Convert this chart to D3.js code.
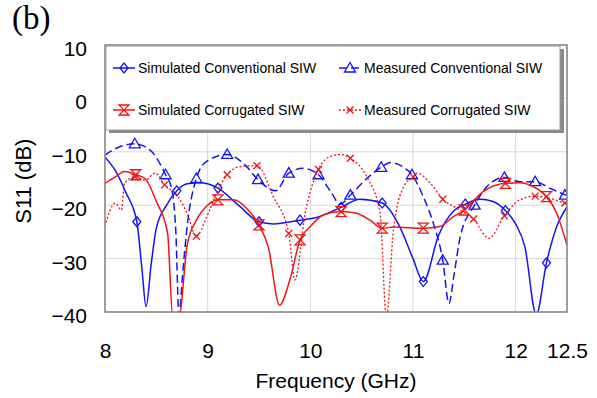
<!DOCTYPE html>
<html>
<head>
<meta charset="utf-8">
<script src="https://cdn.jsdelivr.net/npm/d3@7"></script>
<style>
  body { margin: 0; background: #fff; }
  svg { display: block; }
</style>
</head>
<body>
<svg id="chart" width="597" height="398"></svg>
<script>
// S11 curves: [frequency GHz, dB]
const simConv = [[8.00,-11.0],[8.10,-13.5],[8.20,-17.5],[8.31,-23.1],[8.36,-32],[8.40,-39],[8.45,-31],[8.50,-24.3],[8.60,-20.0],[8.70,-17.3],[8.80,-16.0],[8.92,-15.8],[9.10,-16.8],[9.30,-20],[9.50,-23.1],[9.64,-23.5],[9.90,-22.8],[10.06,-22.3],[10.30,-20.4],[10.48,-18.9],[10.70,-19.6],[10.87,-24],[11.00,-30],[11.10,-34.3],[11.25,-25.6],[11.40,-21],[11.51,-19.8],[11.65,-18.9],[11.78,-19.3],[11.90,-21.0],[12.00,-23.5],[12.09,-27.8],[12.20,-40.5],[12.30,-30.8],[12.40,-24],[12.50,-20.3]];
const simConvMarks = [[8.31,-23.1],[8.70,-17.3],[9.10,-16.8],[9.50,-23.1],[9.90,-22.8],[10.30,-20.4],[10.70,-19.6],[11.10,-34.3],[11.51,-19.8],[11.90,-21.0],[12.30,-30.8]];

const measConv = [[8.00,-10.6],[8.15,-9.0],[8.29,-8.5],[8.44,-9.7],[8.59,-14.3],[8.65,-17.0],[8.69,-25],[8.72,-40.5],[8.76,-32],[8.80,-24],[8.89,-15],[8.99,-11.8],[9.19,-10.5],[9.35,-12.2],[9.49,-15.2],[9.66,-17.3],[9.79,-14],[9.93,-13.1],[10.08,-14.3],[10.20,-17.5],[10.29,-19.8],[10.39,-18.1],[10.55,-15],[10.69,-12.9],[10.78,-12],[10.90,-12.8],[10.99,-14.3],[11.10,-18.4],[11.20,-23.5],[11.29,-30.3],[11.35,-38.4],[11.40,-33],[11.46,-25.9],[11.60,-20],[11.72,-16.5],[11.89,-14.8],[12.04,-15.6],[12.19,-15.6],[12.33,-16.8],[12.50,-18.2]];
const measConvMarks = [[8.29,-8.5],[8.59,-14.3],[8.89,-15],[9.19,-10.5],[9.49,-15.2],[9.79,-14],[10.08,-14.3],[10.39,-18.1],[10.69,-12.9],[10.99,-14.3],[11.29,-30.3],[11.60,-20],[11.89,-14.8],[12.19,-15.6],[12.48,-18.1]];

const simCorr = [[8.00,-15.9],[8.10,-14.7],[8.19,-13.7],[8.30,-14.3],[8.39,-15],[8.50,-19.3],[8.61,-25.3],[8.66,-41],[8.72,-41],[8.80,-27.5],[8.89,-22.8],[9.00,-20.0],[9.10,-19.0],[9.25,-19],[9.38,-20.6],[9.50,-23.7],[9.59,-27.8],[9.70,-38.7],[9.80,-34],[9.90,-26.5],[10.00,-24],[10.13,-21.8],[10.30,-21.2],[10.45,-21.5],[10.58,-22.8],[10.70,-24.3],[10.81,-24.1],[11.10,-24.3],[11.26,-24],[11.39,-22.2],[11.50,-20.9],[11.68,-17.5],[11.90,-15.9],[12.04,-15.8],[12.17,-16.5],[12.30,-18.4],[12.40,-21.5],[12.50,-27.5]];
const simCorrMarks = [[8.30,-14.3],[9.10,-19.0],[9.50,-23.7],[9.90,-26.5],[10.30,-21.2],[10.70,-24.3],[11.10,-24.3],[11.50,-20.9],[11.90,-15.9],[12.30,-18.4]];

const measCorr = [[8.00,-24],[8.05,-20.9],[8.10,-19.6],[8.16,-20.9],[8.19,-15.9],[8.29,-14.7],[8.39,-15.3],[8.49,-14],[8.58,-16.2],[8.70,-18.1],[8.80,-21.5],[8.89,-25.8],[8.99,-22.2],[9.10,-17.2],[9.19,-14.3],[9.31,-12.8],[9.48,-12.6],[9.64,-18.4],[9.79,-25.3],[9.85,-34],[9.95,-21.5],[10.08,-13.3],[10.19,-10.9],[10.30,-10.5],[10.39,-11.2],[10.55,-14.7],[10.68,-21.5],[10.74,-41],[10.81,-24.6],[10.91,-16.5],[11.00,-14.7],[11.04,-14],[11.17,-15.9],[11.29,-18.9],[11.43,-20.6],[11.59,-22.6],[11.74,-26.2],[11.89,-22],[12.04,-19],[12.19,-18.3],[12.33,-18.7],[12.48,-19.6],[12.50,-19.7]];
const measCorrMarks = [[8.29,-14.7],[8.58,-16.2],[8.89,-25.8],[9.19,-14.3],[9.48,-12.6],[9.79,-25.3],[10.08,-13.3],[10.39,-11.2],[11.00,-14.7],[11.29,-18.9],[11.59,-22.6],[11.89,-22],[12.19,-18.3],[12.48,-19.6]];

const xTicks = [8, 9, 10, 11, 12, 12.5];
const yTicks = [10, 0, -10, -20, -30, -40];

const blue = '#1414f0';
const red = '#f01414';

let svg = d3.select('#chart');

let margin = { left: 105, right: 30, top: 45, bottom: 86 };
let width = 597, height = 398;

let x = d3.scaleLinear()
  .domain([8, 12.5])
  .range([margin.left, width - margin.right]);

let y = d3.scaleLinear()
  .domain([-40, 10])
  .range([height - margin.bottom, margin.top]);

// grid
let grid = svg.append('g').attr('stroke', '#d8d8d8').attr('stroke-width', 1);
grid.selectAll('line.h').data(yTicks.slice(1, -1)).enter().append('line')
  .attr('x1', x(8)).attr('x2', x(12.5))
  .attr('y1', d => y(d)).attr('y2', d => y(d));
grid.selectAll('line.v').data(xTicks.slice(1, -1)).enter().append('line')
  .attr('y1', y(-40)).attr('y2', y(10))
  .attr('x1', d => x(d)).attr('x2', d => x(d));

// tick labels
let xAxis = d3.axisBottom(x).tickValues(xTicks).tickSize(0).tickPadding(0)
  .tickFormat(d => d);
svg.append('g')
  .attr('transform', `translate(0,${y(-40)})`)
  .call(xAxis)
  .call(g => g.select('.domain').remove())
  .call(g => g.selectAll('text')
    .attr('dy', null).attr('y', 46)
    .attr('font-family', 'Liberation Sans, Arial, sans-serif')
    .attr('font-size', 21).attr('fill', '#000'));

let yAxis = d3.axisLeft(y).tickValues(yTicks).tickSize(0).tickPadding(0);
svg.append('g')
  .attr('transform', `translate(${margin.left - 18},0)`)
  .call(yAxis)
  .call(g => g.select('.domain').remove())
  .call(g => g.selectAll('text')
    .attr('dy', null).attr('y', 10.5)
    .attr('font-family', 'Liberation Sans, Arial, sans-serif')
    .attr('font-size', 21).attr('fill', '#000'));

// axis titles
svg.append('text')
  .attr('x', x(10.25)).attr('y', 388)
  .attr('text-anchor', 'middle')
  .attr('font-family', 'Liberation Sans, Arial, sans-serif')
  .attr('font-size', 21)
  .text('Frequency (GHz)');

svg.append('text')
  .attr('transform', `translate(31,${y(-15.5)}) rotate(-90)`)
  .attr('text-anchor', 'middle')
  .attr('font-family', 'Liberation Sans, Arial, sans-serif')
  .attr('font-size', 22)
  .text('S11 (dB)');

svg.append('text')
  .attr('x', 12).attr('y', 29)
  .attr('font-family', 'Liberation Serif, Times New Roman, serif')
  .attr('font-size', 33)
  .text('(b)');

// clip
svg.append('clipPath').attr('id', 'plot-clip')
  .append('rect')
  .attr('x', x(8)).attr('y', y(10))
  .attr('width', x(12.5) - x(8)).attr('height', y(-40) - y(10));

let plot = svg.append('g').attr('clip-path', 'url(#plot-clip)');

let line = d3.line()
  .x(d => x(d[0]))
  .y(d => y(d[1]))
  .curve(d3.curveMonotoneX);

// marker shapes
const shapes = {
  diamond: 'M0,-5L4,0L0,5L-4,0Z',
  triangle: 'M0,-5.5L5.5,4L-5.5,4Z',
  hourglass: 'M-5,-5H5L-5,5H5Z',
  cross: 'M-3.5,-3.5L3.5,3.5M3.5,-3.5L-3.5,3.5'
};

let series = [
  { name: 'Simulated Conventional SIW', data: simConv, marks: simConvMarks, color: blue, dash: null, width: 1.5, shape: 'diamond' },
  { name: 'Measured Conventional SIW', data: measConv, marks: measConvMarks, color: blue, dash: '8,4', width: 1.5, shape: 'triangle' },
  { name: 'Simulated Corrugated SIW', data: simCorr, marks: simCorrMarks, color: red, dash: null, width: 1.5, shape: 'hourglass' },
  { name: 'Measured Corrugated SIW', data: measCorr, marks: measCorrMarks, color: red, dash: '2,2', width: 1.3, shape: 'cross' }
];

series.forEach(s => {
  plot.append('path')
    .datum(s.data)
    .attr('fill', 'none')
    .attr('stroke', s.color)
    .attr('stroke-width', s.width)
    .attr('stroke-dasharray', s.dash)
    .attr('d', line);

  plot.append('g')
    .selectAll('path').data(s.marks).enter().append('path')
    .attr('transform', d => `translate(${x(d[0])},${y(d[1])})`)
    .attr('d', shapes[s.shape])
    .attr('fill', 'none')
    .attr('stroke', s.color)
    .attr('stroke-width', 1.3);
});

// frame
svg.append('rect')
  .attr('x', x(8)).attr('y', y(10))
  .attr('width', x(12.5) - x(8)).attr('height', y(-40) - y(10))
  .attr('fill', 'none')
  .attr('stroke', '#7f7f7f')
  .attr('stroke-width', 1.5);

// legend
let lg = svg.append('g');
lg.append('rect')
  .attr('x', 109).attr('y', 49).attr('width', 455).attr('height', 84)
  .attr('fill', '#8a8a8a');
lg.append('rect')
  .attr('x', 106).attr('y', 46).attr('width', 454).attr('height', 84)
  .attr('fill', '#fff')
  .attr('stroke', '#9a9a9a')
  .attr('stroke-width', 1);

let legPos = [[113, 68], [339, 68], [113, 110], [339, 110]];
series.forEach((s, i) => {
  let [lx, ly] = legPos[i];
  let g = lg.append('g').attr('transform', `translate(${lx},${ly})`);
  g.append('line')
    .attr('x1', 0).attr('x2', 22)
    .attr('stroke', s.color)
    .attr('stroke-width', s.width)
    .attr('stroke-dasharray', s.dash);
  g.append('path')
    .attr('transform', 'translate(11,0)')
    .attr('d', shapes[s.shape])
    .attr('fill', 'none')
    .attr('stroke', s.color)
    .attr('stroke-width', 1.3);
  g.append('text')
    .attr('x', 25).attr('y', 5)
    .attr('font-family', 'Liberation Sans, Arial, sans-serif')
    .attr('font-size', 14)
    .text(s.name);
});
</script>
</body>
</html>
